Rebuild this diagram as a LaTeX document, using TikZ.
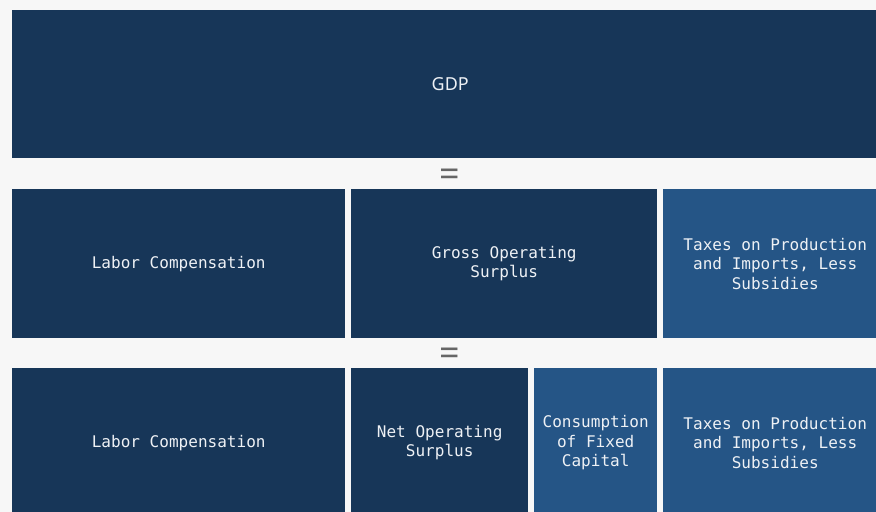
\documentclass[tikz,border=0pt]{standalone}
\usepackage{fontspec}
\setmainfont{Noto Sans}
\newfontfamily\monofam{DejaVu Sans Mono}
\definecolor{pagebg}{HTML}{F7F7F7}
\definecolor{navy}{HTML}{173658}
\definecolor{steel}{HTML}{255586}
\definecolor{labeltext}{HTML}{EEF1F5}
\definecolor{eqgray}{HTML}{666666}
\tikzset{
  block/.style={rectangle, anchor=north west, inner sep=0pt, draw=none,
    text=labeltext, align=center, font=\monofam\fontsize{16.1}{19.5}\selectfont},
  darkblock/.style={block, fill=navy},
  lightblock/.style={block, fill=steel},
  eqsign/.style={text=eqgray, inner sep=0pt, font=\fontsize{36}{36}\selectfont}
}
\begin{document}
\begin{tikzpicture}[x=1bp, y=-1bp]
  \useasboundingbox (0,0) rectangle (876,512);
  \clip (0,0) rectangle (876,512);
  \fill[pagebg] (0,0) rectangle (876,512);

  % top row: the whole
  \node[darkblock, minimum width=876bp, minimum height=148bp,
        font=\fontsize{18}{22}\selectfont] (gdp) at (12,10) {GDP};

  \node[eqsign] (eqa) at (450,178) {=};

  % income split
  \node[darkblock, minimum width=333bp, minimum height=149bp] (labora) at (12,189) {Labor Compensation};
  \node[darkblock, minimum width=306bp, minimum height=149bp] (gos) at (351,189) {Gross Operating\\Surplus};
  \node[lightblock, minimum width=224bp, minimum height=149bp] (taxa) at (663,189) {Taxes on Production\\and Imports, Less\\Subsidies};

  \node[eqsign] (eqb) at (450,357) {=};

  % gross surplus split into net surplus and depreciation
  \node[darkblock, minimum width=333bp, minimum height=149bp] (laborb) at (12,368) {Labor Compensation};
  \node[darkblock, minimum width=177bp, minimum height=149bp] (nos) at (351,368) {Net Operating\\Surplus};
  \node[lightblock, minimum width=123bp, minimum height=149bp] (cfc) at (534,368) {Consumption\\of Fixed\\Capital};
  \node[lightblock, minimum width=224bp, minimum height=149bp] (taxb) at (663,368) {Taxes on Production\\and Imports, Less\\Subsidies};
\end{tikzpicture}
\end{document}
